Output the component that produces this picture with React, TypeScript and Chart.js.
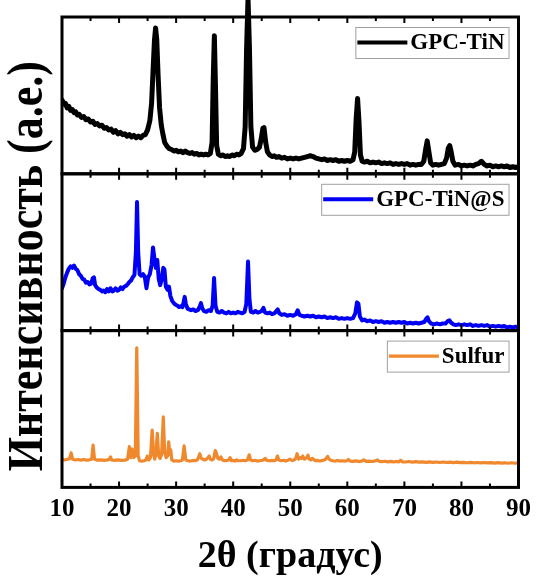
import { useEffect, useRef } from 'react';
import { Chart, registerables } from 'chart.js';

Chart.register(...registerables);

const SERIF = '"Liberation Serif", "Times New Roman", serif';

// Axis range and labels
const angleTicks = [10, 20, 30, 40, 50, 60, 70, 80, 90];
const xTitle = '2θ (градус)';
const yTitle = 'Интенсивность (a.e.)';

// Series names, colours and line widths (top to bottom panel)
const seriesNames = ['GPC-TiN', 'GPC-TiN@S', 'Sulfur'];
const seriesColors = ['#000000', '#0000f5', '#f0882d'];
const seriesWidths = [5, 4, 3.2];

// XRD patterns: [2θ, intensity (a.e.)]
const gpcTiN: [number, number][] = [
  [10.0, 47], [10.3, 44.5], [10.6, 45], [10.9, 42], [11.2, 43], [11.5, 40.5], [11.8, 41], [12.1, 39], [12.4, 39.5], [12.7, 37.5],
  [13.0, 38], [13.4, 36], [13.8, 36.5], [14.2, 34.5], [14.6, 35], [15.0, 33], [15.4, 33.5], [15.8, 31.5], [16.2, 32], [16.6, 30.5],
  [17.0, 31], [17.4, 29], [17.8, 29.5], [18.2, 28], [18.6, 28.5], [19.0, 26.5], [19.4, 27.5], [19.8, 25.5], [20.2, 26.5], [20.6, 25],
  [21.0, 25.5], [21.4, 24], [21.8, 25], [22.2, 23.5], [22.6, 24.5], [23.0, 23], [23.4, 24], [23.8, 23], [24.2, 24.5], [24.6, 25],
  [25.0, 28], [25.4, 34], [25.7, 45], [25.95, 65], [26.2, 85], [26.4, 93], [26.6, 86], [26.85, 62], [27.1, 42], [27.4, 31],
  [27.7, 25], [28.0, 20], [28.4, 17.5], [28.8, 16], [29.2, 15.5], [29.6, 14.5], [30.0, 15], [30.4, 14], [30.8, 14.5], [31.2, 13.5],
  [31.6, 14.5], [32.0, 13.5], [32.4, 13], [32.8, 13.5], [33.2, 12.5], [33.6, 13], [34.0, 12], [34.4, 12.5], [34.8, 12], [35.2, 12.5],
  [35.6, 12], [36.0, 13], [36.3, 20], [36.5, 60], [36.7, 88], [36.9, 55], [37.1, 18], [37.4, 12.5], [37.8, 11.5], [38.2, 12],
  [38.6, 11], [39.0, 11.5], [39.4, 11], [39.8, 12], [40.2, 11.5], [40.6, 12.5], [41.0, 12], [41.4, 13], [41.8, 16], [42.1, 30],
  [42.35, 80], [42.6, 112], [42.85, 80], [43.1, 30], [43.4, 17], [43.8, 15], [44.2, 15.5], [44.6, 17], [44.9, 22], [45.2, 29],
  [45.4, 29.5], [45.7, 20], [46.0, 14], [46.4, 12], [46.8, 11], [47.2, 11.5], [47.6, 10.5], [48.0, 11], [48.5, 10], [49.0, 10.5],
  [49.5, 9.5], [50.0, 10], [50.5, 9.5], [51.0, 10], [51.5, 9.5], [52.0, 10], [52.5, 10.5], [53.0, 11], [53.5, 11.5], [54.0, 11],
  [54.5, 10], [55.0, 9.5], [55.5, 9], [56.0, 9.5], [56.5, 8.5], [57.0, 9], [57.5, 8.5], [58.0, 9], [58.5, 8], [59.0, 8.5],
  [59.5, 8], [60.0, 8.5], [60.5, 8], [61.0, 9], [61.3, 14], [61.55, 35], [61.8, 48], [62.05, 33], [62.3, 12], [62.6, 8],
  [63.0, 7.5], [63.5, 8], [64.0, 7], [64.5, 7.5], [65.0, 7], [65.5, 7.5], [66.0, 6.5], [66.5, 7], [67.0, 6.5], [67.5, 7],
  [68.0, 6], [68.5, 6.5], [69.0, 6], [69.5, 6.5], [70.0, 6], [70.5, 6.5], [71.0, 5.5], [71.5, 6], [72.0, 5.5], [72.5, 6],
  [73.0, 6], [73.4, 8], [73.7, 15], [74.0, 21], [74.3, 14], [74.6, 7], [75.0, 5.5], [75.5, 6], [76.0, 5.5], [76.5, 6],
  [77.0, 6.5], [77.4, 10], [77.7, 16.5], [77.95, 18], [78.2, 14], [78.5, 8], [78.9, 5.5], [79.5, 6], [80.0, 5], [80.5, 5.5],
  [81.0, 5], [81.5, 5.5], [82.0, 5], [82.5, 6], [83.0, 6.5], [83.5, 8], [84.0, 6], [84.5, 5], [85.0, 5.5], [85.5, 4.5],
  [86.0, 5], [86.5, 4.5], [87.0, 5], [87.5, 4.5], [88.0, 5], [88.5, 4], [89.0, 4.5], [89.5, 4], [90.0, 4.5],
];

const gpcTiNS: [number, number][] = [
  [10.0, 27], [10.3, 30], [10.6, 34], [10.9, 37], [11.2, 39.5], [11.5, 41], [11.8, 40], [12.1, 41.5], [12.4, 39.5], [12.7, 38.5],
  [13.0, 36], [13.3, 35], [13.6, 33], [13.9, 32.5], [14.2, 30.5], [14.5, 31], [14.8, 29.5], [15.1, 30], [15.4, 33.5], [15.6, 34],
  [15.8, 29], [16.1, 27.5], [16.4, 26.5], [16.7, 26], [17.0, 25], [17.3, 25.5], [17.6, 24.5], [17.9, 26.5], [18.2, 25], [18.5, 27],
  [18.8, 25], [19.1, 25.5], [19.4, 27], [19.7, 25.5], [20.0, 26], [20.3, 27.5], [20.6, 26.5], [20.9, 28], [21.2, 28.5], [21.5, 29.5],
  [21.8, 31], [22.1, 32], [22.4, 34], [22.7, 35.5], [22.95, 50], [23.15, 82], [23.35, 50], [23.6, 36], [23.9, 35], [24.2, 36],
  [24.5, 34.5], [24.8, 27], [25.1, 34], [25.4, 36], [25.7, 42], [25.95, 53], [26.2, 46], [26.45, 40], [26.7, 45], [26.95, 33],
  [27.2, 29], [27.5, 33], [27.75, 40], [27.95, 39], [28.2, 28], [28.5, 26], [28.75, 28], [29.0, 22], [29.3, 19], [29.6, 17.5],
  [29.9, 16.5], [30.2, 16], [30.5, 15], [30.8, 15.5], [31.1, 15], [31.3, 18], [31.5, 21.5], [31.7, 17], [32.0, 14], [32.3, 13.5],
  [32.6, 13], [33.0, 13.5], [33.4, 12.5], [33.8, 13], [34.1, 15], [34.35, 17.5], [34.6, 14], [34.9, 12.5], [35.3, 12], [35.7, 13],
  [36.1, 12.5], [36.4, 16], [36.65, 33.5], [36.9, 16], [37.2, 12], [37.6, 11.5], [38.0, 12.5], [38.4, 11.5], [38.8, 11], [39.2, 12],
  [39.6, 11], [40.0, 11.5], [40.4, 11], [40.8, 12], [41.2, 11.5], [41.6, 11], [42.0, 12], [42.3, 17], [42.6, 44], [42.85, 20],
  [43.1, 12], [43.5, 11.5], [43.9, 12.5], [44.3, 11.5], [44.7, 12], [45.0, 12.5], [45.3, 14.5], [45.6, 11.5], [46.0, 11], [46.4, 11.5],
  [46.8, 10.5], [47.2, 11], [47.6, 12.5], [47.8, 13.5], [48.1, 11], [48.5, 10], [49.0, 10.5], [49.5, 9.5], [50.0, 10], [50.5, 9.5],
  [51.0, 10.5], [51.3, 13], [51.6, 10], [52.0, 9.5], [52.5, 9], [53.0, 9.5], [53.5, 9], [54.0, 9.5], [54.5, 8.5], [55.0, 9],
  [55.5, 8.5], [56.0, 9], [56.5, 8], [57.0, 8.5], [57.5, 8], [58.0, 8.5], [58.5, 7.5], [59.0, 8], [59.5, 7.5], [60.0, 8],
  [60.5, 7.5], [61.0, 8], [61.4, 11], [61.7, 18], [61.95, 17], [62.2, 9], [62.6, 6.5], [63.0, 7], [63.5, 6], [64.0, 6.5],
  [64.5, 5.5], [65.0, 6], [65.5, 5.5], [66.0, 6], [66.5, 5], [67.0, 5.5], [67.5, 5], [68.0, 5.5], [68.5, 5], [69.0, 5.5],
  [69.5, 5], [70.0, 5.5], [70.5, 4.5], [71.0, 5], [71.5, 4.5], [72.0, 5], [72.5, 4.5], [73.0, 5], [73.5, 5.5], [73.8, 7.5],
  [74.05, 8.5], [74.3, 6], [74.7, 4.5], [75.2, 4], [75.7, 4.5], [76.2, 4], [76.7, 4.5], [77.2, 4.5], [77.6, 6], [77.9, 6.5],
  [78.2, 5], [78.6, 4], [79.0, 3.5], [79.5, 4], [80.0, 3.5], [80.5, 4], [81.0, 3.5], [81.5, 4], [82.0, 3], [82.5, 3.5],
  [83.0, 3], [83.5, 3.5], [84.0, 3], [84.5, 3.5], [85.0, 2.5], [85.5, 3], [86.0, 2.5], [86.5, 3], [87.0, 2.5], [87.5, 3],
  [88.0, 2], [88.5, 2.5], [89.0, 2], [89.5, 2.5], [90.0, 2],
];

const sulfur: [number, number][] = [
  [10.0, 18], [10.5, 17.5], [11.0, 18], [11.35, 18.5], [11.6, 22], [11.85, 18], [12.3, 17.5], [12.8, 17.8], [13.3, 17.4], [13.8, 17.8],
  [14.3, 17.4], [14.8, 17.6], [15.2, 18], [15.45, 27], [15.7, 18], [16.2, 17.4], [16.8, 17.6], [17.4, 17.2], [18.0, 17.5], [18.3, 18],
  [18.5, 19.5], [18.7, 17.5], [19.2, 17.2], [19.8, 17.5], [20.4, 17.2], [21.0, 17.4], [21.5, 18], [21.8, 26], [22.05, 19], [22.3, 24.5],
  [22.55, 19], [22.85, 20], [23.1, 89], [23.35, 20], [23.6, 17], [24.0, 16.8], [24.4, 17], [24.7, 17.5], [24.95, 20], [25.2, 17.5],
  [25.5, 19], [25.8, 36.5], [26.05, 21], [26.25, 18], [26.45, 21], [26.7, 34.5], [26.95, 20], [27.2, 18.5], [27.45, 21], [27.75, 45],
  [28.0, 22], [28.25, 19], [28.5, 20], [28.7, 29], [28.9, 21], [29.05, 24], [29.25, 17.5], [29.6, 16.8], [30.0, 17], [30.4, 16.8],
  [30.8, 17], [31.1, 17.5], [31.4, 26.5], [31.7, 17.5], [32.1, 17], [32.5, 16.8], [32.9, 17.2], [33.3, 17], [33.7, 17.5], [33.9, 19],
  [34.15, 21.5], [34.4, 18.5], [34.7, 18], [35.0, 17.5], [35.3, 18], [35.6, 19], [35.8, 20], [36.0, 18], [36.3, 17.5], [36.6, 18.5],
  [36.85, 23.5], [37.05, 22], [37.3, 18.5], [37.6, 18], [37.85, 19.5], [38.1, 17.5], [38.5, 17], [38.9, 17.2], [39.2, 17.5], [39.45, 19],
  [39.7, 17], [40.0, 17.2], [40.3, 16.8], [40.6, 17.5], [40.9, 17], [41.3, 17], [41.7, 17.3], [42.1, 17], [42.5, 17.5], [42.8, 20.8],
  [43.05, 17.5], [43.4, 17], [43.8, 17.3], [44.2, 16.8], [44.6, 17], [45.0, 17.2], [45.3, 17.5], [45.6, 18.5], [45.9, 17.2], [46.3, 17],
  [46.8, 17.2], [47.2, 17], [47.5, 17.5], [47.75, 20], [48.0, 17.5], [48.4, 17], [48.8, 17.3], [49.2, 16.8], [49.6, 17.3], [49.9, 18],
  [50.3, 17.2], [50.7, 17.5], [50.95, 18.5], [51.2, 21.5], [51.45, 18], [51.7, 19], [51.95, 18.5], [52.2, 20], [52.45, 18], [52.7, 18.5],
  [52.9, 19], [53.1, 20.5], [53.35, 18], [53.6, 17.5], [53.85, 18.5], [54.05, 18], [54.4, 17], [54.8, 17.2], [55.2, 16.8], [55.6, 17.2],
  [56.0, 17.5], [56.3, 18.5], [56.55, 19.8], [56.8, 18], [57.1, 17.3], [57.5, 17], [57.9, 16.8], [58.3, 17.2], [58.7, 16.8], [59.1, 17],
  [59.5, 16.8], [59.9, 17], [60.2, 17.8], [60.5, 16.8], [61.0, 16.6], [61.5, 16.9], [62.0, 16.5], [62.5, 16.8], [62.9, 17.5], [63.3, 16.6],
  [63.8, 16.8], [64.3, 16.5], [64.8, 16.8], [65.3, 17.5], [65.6, 16.6], [66.1, 16.4], [66.6, 16.7], [67.1, 16.3], [67.6, 16.6], [68.1, 16.3],
  [68.6, 16.5], [69.0, 16.3], [69.35, 17.2], [69.7, 16.3], [70.2, 16.2], [70.8, 16.5], [71.4, 16.1], [72.0, 16.4], [72.6, 16.1], [73.2, 16.3],
  [73.8, 16], [74.4, 16.3], [75.0, 16], [75.6, 16.2], [76.2, 15.9], [76.8, 16.2], [77.4, 15.9], [78.0, 16.1], [78.6, 15.8], [79.2, 16.1],
  [79.8, 15.8], [80.4, 16], [81.0, 15.7], [81.6, 16], [82.2, 15.7], [82.8, 15.9], [83.4, 15.6], [84.0, 15.9], [84.6, 15.6], [85.2, 15.8],
  [85.8, 15.5], [86.4, 15.8], [87.0, 15.5], [87.6, 15.7], [88.2, 15.4], [88.8, 15.7], [89.4, 15.4], [90.0, 15.6],
];

const patterns = [gpcTiN, gpcTiNS, sulfur];
const panelAxisIds = ['yTiN', 'yTiNS', 'yS'];

// Frame around every panel with inward ticks on its top and bottom edges
const panelFramePlugin = {
  id: 'panelFrame',
  afterDatasetsDraw(chart: any) {
    const { ctx, chartArea, scales } = chart;
    const xScale = scales.x;
    ctx.save();
    ctx.strokeStyle = '#000';
    for (const id of panelAxisIds) {
      const s = scales[id];
      ctx.lineWidth = 3;
      ctx.strokeRect(chartArea.left, s.top, chartArea.right - chartArea.left, s.bottom - s.top);
      ctx.lineWidth = 2;
      for (let v = 15; v < 90; v += 5) {
        const px = xScale.getPixelForValue(v);
        const len = v % 10 === 0 ? 6 : 4;
        ctx.beginPath();
        ctx.moveTo(px, s.top);
        ctx.lineTo(px, s.top + len);
        ctx.moveTo(px, s.bottom);
        ctx.lineTo(px, s.bottom - len);
        ctx.stroke();
      }
    }
    ctx.restore();
  },
};

// One boxed legend entry in the upper right corner of each panel
const panelLegendPlugin = {
  id: 'panelLegend',
  afterDraw(chart: any) {
    const { ctx, chartArea, scales } = chart;
    ctx.save();
    ctx.font = `bold 23px ${SERIF}`;
    ctx.textBaseline = 'middle';
    ctx.textAlign = 'left';
    chart.data.datasets.forEach((ds: any, i: number) => {
      const s = scales[panelAxisIds[i]];
      const textW = ctx.measureText(ds.label).width;
      const lineLen = 50;
      const boxH = 31;
      const boxW = 2 + lineLen + 3 + textW + 4;
      const boxRight = chartArea.right - 10;
      const boxLeft = boxRight - boxW;
      const boxTop = s.top + 10;
      const cy = boxTop + boxH / 2;
      ctx.fillStyle = '#fff';
      ctx.fillRect(boxLeft, boxTop, boxW, boxH);
      ctx.strokeStyle = '#a0a0a0';
      ctx.lineWidth = 1;
      ctx.strokeRect(boxLeft + 0.5, boxTop + 0.5, boxW, boxH);
      ctx.strokeStyle = ds.borderColor;
      ctx.lineWidth = Math.min(ds.borderWidth, 4);
      ctx.beginPath();
      ctx.moveTo(boxLeft + 2, cy);
      ctx.lineTo(boxLeft + 2 + lineLen, cy);
      ctx.stroke();
      ctx.fillStyle = '#000';
      ctx.fillText(ds.label, boxLeft + 2 + lineLen + 3, cy + 1);
    });
    ctx.restore();
  },
};

// Shared vertical title spanning all three panels
const sideTitlePlugin = {
  id: 'sideTitle',
  afterDraw(chart: any) {
    const { ctx, chartArea } = chart;
    ctx.save();
    ctx.translate(29, (chartArea.top + chartArea.bottom) / 2 + 14);
    ctx.rotate(-Math.PI / 2);
    ctx.scale(1, 1.15);
    ctx.font = `bold 44px ${SERIF}`;
    ctx.fillStyle = '#000';
    ctx.textAlign = 'center';
    ctx.textBaseline = 'middle';
    ctx.fillText(yTitle, 0, 0);
    ctx.restore();
  },
};

export default function App() {
  const canvasRef = useRef<HTMLCanvasElement | null>(null);

  useEffect(() => {
    const canvas = canvasRef.current;
    if (!canvas) return;

    const panelScale = () => ({
      type: 'linear' as const,
      position: 'left' as const,
      stack: 'xrd',
      stackWeight: 1,
      min: 0,
      max: 100,
      display: true,
      ticks: { display: false },
      grid: { display: false, drawTicks: false },
      border: { display: false },
    });

    const chart = new Chart(canvas, {
      type: 'line',
      data: {
        datasets: patterns.map((pts, i) => ({
          label: seriesNames[i],
          data: pts.map(([x, y]) => ({ x, y })),
          yAxisID: panelAxisIds[i],
          borderColor: seriesColors[i],
          backgroundColor: seriesColors[i],
          borderWidth: seriesWidths[i],
          borderJoinStyle: 'round' as const,
          borderCapStyle: 'round' as const,
          pointRadius: 0,
          tension: 0,
          fill: false,
          clip: i === 0 ? { left: 0, right: 0, top: 20, bottom: 0 } : 0,
        })),
      },
      options: {
        responsive: false,
        animation: false,
        devicePixelRatio: 1,
        layout: { padding: { left: 62, right: 17, top: 17, bottom: 2 } },
        plugins: { legend: { display: false }, tooltip: { enabled: false } },
        scales: {
          x: {
            type: 'linear',
            position: 'bottom',
            min: 10,
            max: 90,
            afterBuildTicks: (axis: any) => {
              axis.ticks = angleTicks.map((v) => ({ value: v }));
            },
            ticks: {
              color: '#000',
              font: { family: SERIF, size: 25, weight: 'bold' },
              padding: 7,
              maxRotation: 0,
              autoSkip: false,
            },
            grid: { display: false, drawTicks: false },
            border: { display: false },
            title: {
              display: true,
              text: xTitle,
              color: '#000',
              font: { family: SERIF, size: 38, weight: 'bold' },
              padding: { top: 3, bottom: 0 },
            },
          },
          // stacked panels: the last declared axis sits on top
          yS: panelScale(),
          yTiNS: panelScale(),
          yTiN: panelScale(),
        } as any,
      },
      plugins: [panelFramePlugin, panelLegendPlugin, sideTitlePlugin],
    });

    return () => chart.destroy();
  }, []);

  return (
    <div style={{ position: 'fixed', left: 0, top: 0, width: 538, height: 582, background: '#fff' }}>
      <canvas ref={canvasRef} width={538} height={582} />
    </div>
  );
}
